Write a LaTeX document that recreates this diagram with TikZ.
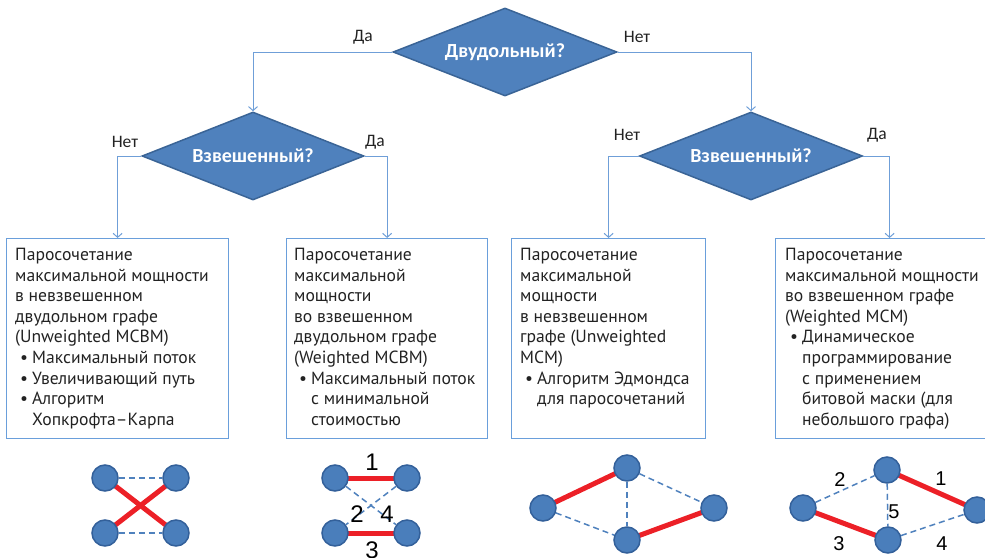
\documentclass[tikz,border=0pt]{standalone}
\usepackage{fontspec}
\setmainfont{PT Sans}
\newfontfamily\calib{Carlito}
\newfontfamily\arial{Liberation Sans}
\usetikzlibrary{shapes.geometric,arrows.meta}
\definecolor{dfill}{HTML}{4F81BD}
\definecolor{dborder}{HTML}{3A6496}
\definecolor{connc}{HTML}{6F9FD8}
\definecolor{boxc}{HTML}{6A9FDB}
\definecolor{txtc}{HTML}{222222}
\definecolor{gfill}{HTML}{4A7EBB}
\definecolor{gborder}{HTML}{33609A}
\definecolor{redc}{HTML}{EC2027}
\definecolor{dashc}{HTML}{4F81BD}
\pgfdeclarelayer{bg}
\pgfsetlayers{bg,main}
\newcommand{\bul}{\makebox[17pt][l]{\hspace{5pt}\textbullet}}
\newcommand{\ind}{\hspace*{17pt}}
\begin{document}
\begin{tikzpicture}[x=1pt,y=-1pt,
  decision/.style={diamond, aspect=2.5, inner sep=0pt, minimum width=224pt, minimum height=88pt,
    fill=dfill, draw=dborder, line width=1.5pt, text=white, font=\calib\bfseries\fontsize{20}{22}\selectfont},
  conn/.style={draw=connc, line width=1pt, -{Straight Barb[length=4pt,width=9pt]}},
  lab/.style={font=\calib\fontsize{17.5}{20}\selectfont, text=txtc},
  boxn/.style={draw=boxc, line width=1.2pt, minimum height=200pt, inner sep=0pt, anchor=north west},
  txt/.style={anchor=north west, inner sep=0pt, align=left, font=\fontsize{17.6}{20.6}\selectfont, text=txtc},
  gn/.style={circle, fill=gfill, draw=gborder, line width=1.5pt, minimum size=26pt, inner sep=0pt},
  rededge/.style={draw=redc, line width=5pt},
  dsh/.style={draw=dashc, line width=1.5pt, dash pattern=on 6pt off 4pt},
  num/.style={font=\arial\fontsize{20}{22}\selectfont, text=black, inner sep=0pt},
  bignum/.style={font=\arial\fontsize{24}{26}\selectfont, text=black, inner sep=0pt}]
\useasboundingbox (0,0) rectangle (985,557);
\clip (0,0) rectangle (985,557);

% decisions
\node[decision] (T) at (505,52) {Двудольный?};
\node[decision, minimum width=222pt] (L) at (253,156) {Взвешенный?};
\node[decision, minimum width=223pt] (R) at (751,156) {Взвешенный?};

% boxes
\node[boxn, minimum width=222pt] (bx1) at (6,238) {};
\node[boxn, minimum width=201pt] (bx2) at (286,238) {};
\node[boxn, minimum width=194pt] (bx3) at (511,238) {};
\node[boxn, minimum width=228pt] (bx4) at (775,238) {};

% connectors
\draw[conn] (T.west) -| (L.north);
\draw[conn] (T.east) -| (R.north);
\draw[conn] (L.west) -| (bx1.north);
\draw[conn] (L.east) -| (bx2.north);
\draw[conn] (R.west) -| (bx3.north);
\draw[conn] (R.east) -| (bx4.north);

% labels
\node[lab] (l1) at (363,37) {Да};
\node[lab] (l2) at (637,37) {Нет};
\node[lab] (l3) at (125,142) {Нет};
\node[lab] (l4) at (375,142) {Да};
\node[lab] (l5) at (627,135) {Нет};
\node[lab] (l6) at (877,135) {Да};

% texts
\node[txt] (t1) at (15,248) {Паросочетание\\максимальной мощности\\в невзвешенном\\двудольном графе\\(Unweighted MCBM)\\\bul Максимальный поток\\\bul Увеличивающий путь\\\bul Алгоритм\\\ind Хопкрофта–Карпа};
\node[txt] (t2) at (294,248) {Паросочетание\\максимальной\\мощности\\во взвешенном\\двудольном графе\\(Weighted MCBM)\\\bul Максимальный поток\\\ind с минимальной\\\ind стоимостью};
\node[txt] (t3) at (520,248) {Паросочетание\\максимальной\\мощности\\в невзвешенном\\графе (Unweighted\\MCM)\\\bul Алгоритм Эдмондса\\\ind для паросочетаний};
\node[txt] (t4) at (785,248) {Паросочетание\\максимальной мощности\\во взвешенном графе\\(Weighted MCM)\\\bul Динамическое\\\ind программирование\\\ind с применением\\\ind битовой маски (для\\\ind небольшого графа)};

% graph 1
\node[gn] (a1) at (105,478) {};
\node[gn] (a2) at (176,478) {};
\node[gn] (a3) at (105,533) {};
\node[gn] (a4) at (176,533) {};
% graph 2
\node[gn] (c1) at (335,478) {};
\node[gn] (c2) at (407,478) {};
\node[gn] (c3) at (335,533) {};
\node[gn] (c4) at (407,533) {};
% graph 3
\node[gn] (d1) at (543,508) {};
\node[gn] (d2) at (627,468) {};
\node[gn] (d3) at (627,540) {};
\node[gn] (d4) at (714,508) {};
% graph 4
\node[gn] (e1) at (803,508) {};
\node[gn] (e2) at (887,470) {};
\node[gn] (e3) at (888,540) {};
\node[gn] (e4) at (977,510) {};

\begin{pgfonlayer}{bg}
\draw[rededge] (a1.center) -- (a4.center);
\draw[rededge] (a2.center) -- (a3.center);
\draw[dsh] (a1) -- (a2);
\draw[dsh] (a3) -- (a4);
\draw[rededge] (c1.center) -- (c2.center);
\draw[rededge] (c3.center) -- (c4.center);
\draw[dsh] (c1) -- (c4);
\draw[dsh] (c2) -- (c3);
\draw[rededge] (d1.center) -- (d2.center);
\draw[rededge] (d3.center) -- (d4.center);
\draw[dsh] (d2) -- (d3);
\draw[dsh] (d2) -- (d4);
\draw[dsh] (d1) -- (d3);
\draw[rededge] (e2.center) -- (e4.center);
\draw[rededge] (e1.center) -- (e3.center);
\draw[dsh] (e1) -- (e2);
\draw[dsh] (e2) -- (e3);
\draw[dsh] (e3) -- (e4);
\end{pgfonlayer}

% numbers
\node[bignum] (n1) at (372,462) {1};
\node[bignum] (n2) at (357,514) {2};
\node[bignum] (n4) at (387,514) {4};
\node[bignum] (n3) at (372,550) {3};
\node[num] (m2) at (840,480) {2};
\node[num] (m1) at (941,479) {1};
\node[num] (m5) at (894,512) {5};
\node[num] (m3) at (839,544) {3};
\node[num] (m4) at (942,544) {4};
\end{tikzpicture}
\end{document}
